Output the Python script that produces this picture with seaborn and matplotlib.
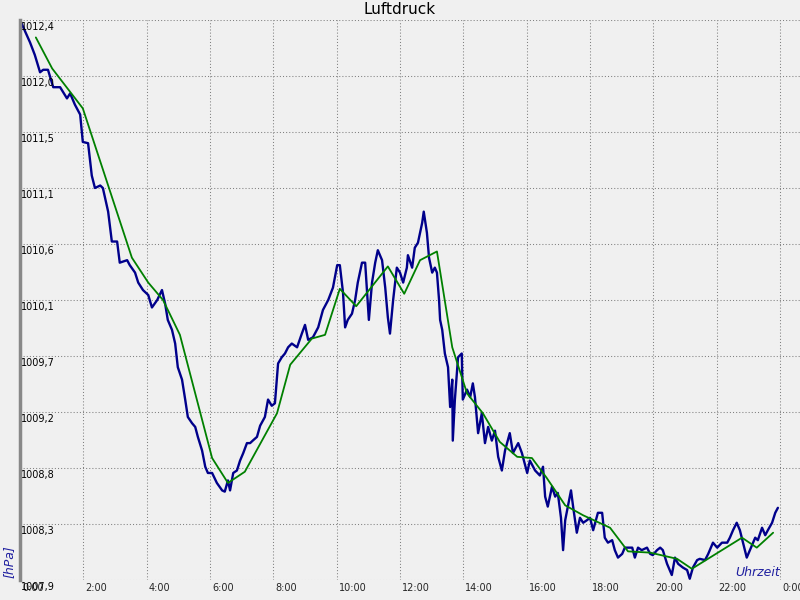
import matplotlib
matplotlib.use("Agg")
import matplotlib.pyplot as plt
import matplotlib.transforms as mtransforms
import numpy as np
import pandas as pd
import seaborn as sns

# ---- data ----
blue_minutes = [0, 19, 28, 38, 44, 53, 63, 76, 89, 95, 104, 114, 119, 129, 136, 142, 152, 157, 167, 174,
                184, 189, 203, 208, 218, 224, 233, 243, 250, 260, 269, 275, 280, 288, 294, 299, 307, 313, 318, 326,
                332, 337, 345, 351, 356, 364, 373, 383, 388, 394, 398, 404, 411, 417, 423, 430, 436, 441, 449, 455,
                464, 470, 477, 483, 489, 496, 502, 508, 515, 525, 534, 540, 546, 555, 565, 574, 584, 593, 601, 606,
                612, 616, 621, 629, 635, 640, 648, 654, 657, 661, 667, 673, 678, 686, 692, 697, 701, 707, 714, 720,
                726, 733, 735, 743, 748, 754, 762, 765, 771, 775, 781, 786, 790, 794, 796, 800, 805, 811, 815, 819,
                820, 824, 830, 837, 839, 847, 853, 858, 862, 868, 875, 881, 887, 894, 900, 906, 913, 919, 928, 934,
                944, 951, 961, 966, 976, 985, 991, 995, 1000, 1008, 1014, 1019, 1025, 1029, 1033, 1038, 1044, 1048, 1055, 1061,
                1067, 1074, 1080, 1086, 1095, 1103, 1108, 1114, 1122, 1127, 1133, 1141, 1146, 1152, 1160, 1165, 1171, 1178, 1188, 1194,
                1199, 1207, 1213, 1218, 1226, 1235, 1241, 1247, 1256, 1264, 1269, 1275, 1283, 1288, 1298, 1304, 1313, 1321, 1330, 1340,
                1345, 1351, 1358, 1364, 1370, 1377, 1383, 1393, 1398, 1406, 1412, 1417, 1425, 1431, 1436]
blue_hpa = [1012.40, 1012.22, 1012.12, 1011.98, 1012.00, 1012.00, 1011.86, 1011.86, 1011.77, 1011.81,
            1011.72, 1011.64, 1011.42, 1011.41, 1011.15, 1011.05, 1011.07, 1011.05, 1010.86, 1010.62,
            1010.62, 1010.45, 1010.47, 1010.43, 1010.37, 1010.29, 1010.23, 1010.19, 1010.09, 1010.15,
            1010.23, 1010.12, 1009.99, 1009.91, 1009.80, 1009.61, 1009.51, 1009.35, 1009.21, 1009.16,
            1009.13, 1009.05, 1008.94, 1008.81, 1008.76, 1008.76, 1008.68, 1008.62, 1008.61, 1008.70,
            1008.62, 1008.76, 1008.78, 1008.86, 1008.92, 1009.00, 1009.00, 1009.02, 1009.05, 1009.14,
            1009.21, 1009.35, 1009.30, 1009.32, 1009.64, 1009.69, 1009.72, 1009.77, 1009.80, 1009.77,
            1009.88, 1009.95, 1009.83, 1009.85, 1009.93, 1010.07, 1010.15, 1010.25, 1010.43, 1010.43,
            1010.21, 1009.93, 1009.99, 1010.04, 1010.15, 1010.29, 1010.45, 1010.45, 1010.25, 1009.99,
            1010.29, 1010.45, 1010.55, 1010.47, 1010.25, 1010.01, 1009.88, 1010.15, 1010.41, 1010.37,
            1010.29, 1010.41, 1010.51, 1010.41, 1010.57, 1010.61, 1010.77, 1010.86, 1010.69, 1010.49,
            1010.37, 1010.41, 1010.37, 1010.15, 1009.99, 1009.91, 1009.72, 1009.61, 1009.29, 1009.51,
            1009.02, 1009.35, 1009.69, 1009.72, 1009.35, 1009.43, 1009.37, 1009.48, 1009.37, 1009.08,
            1009.24, 1009.00, 1009.13, 1009.02, 1009.10, 1008.89, 1008.78, 1008.94, 1009.08, 1008.92,
            1009.00, 1008.92, 1008.76, 1008.86, 1008.78, 1008.74, 1008.81, 1008.57, 1008.49, 1008.65,
            1008.57, 1008.60, 1008.40, 1008.14, 1008.38, 1008.49, 1008.62, 1008.49, 1008.28, 1008.40,
            1008.36, 1008.38, 1008.40, 1008.30, 1008.44, 1008.44, 1008.24, 1008.20, 1008.22, 1008.14,
            1008.08, 1008.11, 1008.16, 1008.16, 1008.16, 1008.08, 1008.16, 1008.14, 1008.16, 1008.11,
            1008.10, 1008.14, 1008.16, 1008.14, 1008.03, 1007.94, 1008.08, 1008.03, 1008.00, 1007.98,
            1007.91, 1008.00, 1008.06, 1008.07, 1008.06, 1008.11, 1008.20, 1008.16, 1008.20, 1008.20,
            1008.24, 1008.30, 1008.36, 1008.30, 1008.20, 1008.08, 1008.14, 1008.24, 1008.22, 1008.32,
            1008.26, 1008.30, 1008.36, 1008.44, 1008.48]

green_minutes = [30, 61, 119, 212, 243, 271, 303, 364, 394, 426, 487, 512, 553, 578, 606, 637, 697, 728,
                 758, 790, 819, 847, 877, 909, 942, 970, 998, 1033, 1067, 1118, 1152, 1194, 1245, 1273,
                 1368, 1396, 1427]
green_hpa = [1012.26, 1012.01, 1011.69, 1010.49, 1010.29, 1010.15, 1009.87, 1008.88, 1008.68, 1008.77,
             1009.24, 1009.63, 1009.84, 1009.87, 1010.24, 1010.10, 1010.42, 1010.20, 1010.47, 1010.54,
             1009.77, 1009.40, 1009.24, 1009.01, 1008.89, 1008.88, 1008.72, 1008.50, 1008.42, 1008.32,
             1008.13, 1008.12, 1008.07, 1007.99, 1008.24, 1008.16, 1008.28]

y_ticks = [1007.9, 1008.35, 1008.8, 1009.25, 1009.7, 1010.15, 1010.6, 1011.05, 1011.5, 1011.95, 1012.4]
y_tick_labels = ["1007,9", "1008,3", "1008,8", "1009,2", "1009,7", "1010,1",
                 "1010,6", "1011,1", "1011,5", "1012,0", "1012,4"]
x_tick_hours = [0, 2, 4, 6, 8, 10, 12, 14, 16, 18, 20, 22, 24]
x_tick_labels = ["0:00", "2:00", "4:00", "6:00", "8:00", "10:00", "12:00",
                 "14:00", "16:00", "18:00", "20:00", "22:00", "0:00"]

title = "Luftdruck"
y_unit = "[hPa]"
x_unit = "Uhrzeit"

# ---- styling ----
BG = "#f0f0f0"
sns.set_style("white")
plt.rcParams["font.family"] = ["DejaVu Sans"]

fig = plt.figure(figsize=(8, 6), dpi=100, facecolor=BG)
# axes spans x 20..800 px, y 20..580 px
ax = fig.add_axes([20 / 800, 20 / 600, 780 / 800, 560 / 600])
ax.set_facecolor(BG)

blue_df = pd.DataFrame({"hour": np.array(blue_minutes) / 60.0, "hpa": blue_hpa})
green_df = pd.DataFrame({"hour": np.array(green_minutes) / 60.0, "hpa": green_hpa})

sns.lineplot(data=blue_df, x="hour", y="hpa", ax=ax, color="#00008b", lw=1.7,
             estimator=None, sort=False)
sns.lineplot(data=green_df, x="hour", y="hpa", ax=ax, color="#008000", lw=1.3,
             estimator=None, sort=False)

xmax = 24 * 780 / 760
ax.set_xlim(0, xmax)
ax.set_ylim(y_ticks[0], y_ticks[-1])
ax.set_xlabel("")
ax.set_ylabel("")

for s in ["top", "right", "bottom"]:
    ax.spines[s].set_visible(False)
ax.spines["left"].set_color("#888888")
ax.spines["left"].set_linewidth(2.5)

grid_kw = dict(color="#808080", lw=0.75, ls=(0, (1, 2)), zorder=0)
ax.set_yticks(y_ticks)
ax.set_xticks(x_tick_hours)
ax.grid(True, **grid_kw)
ax.set_axisbelow(True)

ax.set_yticklabels([])
ax.tick_params(axis="both", length=0)
ax.set_xticklabels(x_tick_labels, fontsize=7, ha="left")
ax.tick_params(axis="x", pad=2)
offset = mtransforms.ScaledTranslation(2 / 100, 0, fig.dpi_scale_trans)
for lab in ax.get_xticklabels():
    lab.set_transform(lab.get_transform() + offset)

ytrans = mtransforms.blended_transform_factory(ax.transAxes, ax.transData)
for v, lab in zip(y_ticks, y_tick_labels):
    ax.text(0.001, v, lab, transform=ytrans + mtransforms.ScaledTranslation(0, -2 / 100, fig.dpi_scale_trans),
            ha="left", va="top", fontsize=7, color="black", clip_on=False)

fig.text(0.5, 1 - 9 / 600, title, ha="center", va="center", fontsize=11, color="black")
fig.text(9 / 800, 1 - 562 / 600, y_unit, ha="center", va="center", rotation=90,
         fontsize=9, style="italic", color="#2020a0")
fig.text(780 / 800, 1 - 572 / 600, x_unit, ha="right", va="center",
         fontsize=9, style="italic", color="#2020a0")

fig.savefig("out.png", dpi=100, facecolor=BG)
